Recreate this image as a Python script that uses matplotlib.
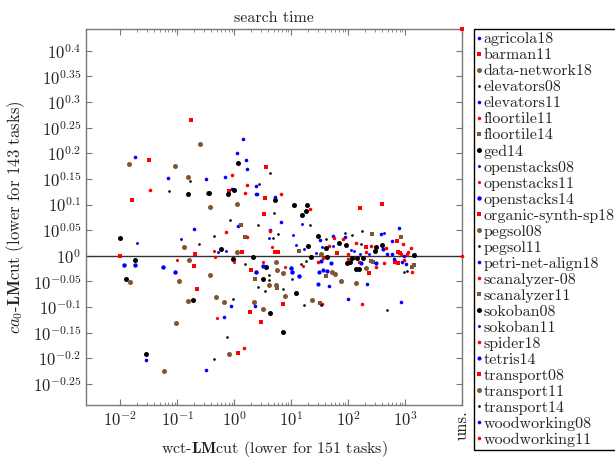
import matplotlib
matplotlib.use("Agg")
import matplotlib.pyplot as plt
from matplotlib.ticker import FixedLocator, FixedFormatter, NullLocator

plt.rcParams['font.family'] = 'serif'
plt.rcParams['font.serif'] = ['cmr10', 'DejaVu Serif']
plt.rcParams['mathtext.fontset'] = 'cm'
plt.rcParams['axes.formatter.use_mathtext'] = True
plt.rcParams['axes.unicode_minus'] = False

# ---------------- data ----------------
UNS = 1e4          # x value used for unsolved tasks
YMAX = 2.77

domains = ["agricola18", "barman11", "data-network18", "elevators08", "elevators11",
           "floortile11", "floortile14", "ged14", "openstacks08", "openstacks11",
           "openstacks14", "organic-synth-sp18", "pegsol08", "pegsol11",
           "petri-net-align18", "scanalyzer-08", "scanalyzer11", "sokoban08",
           "sokoban11", "spider18", "tetris14", "transport08", "transport11",
           "transport14", "woodworking08", "woodworking11"]

agricola18_x = [1.44, 1.13, 1.62, 1.69, 0.0183, 0.0695, 0.323, 0.695, 2.43]
agricola18_y = [1.692, 1.589, 1.540, 1.479, 1.561, 1.420, 1.414, 1.427, 1.370]
barman11_x = [0.176, 3.64, 0.0323, 0.817, 0.0162, 3.50, 3.36, 162, 395, 5.24]
barman11_y = [1.843, 1.492, 1.540, 1.339, 1.286, 1.298, 1.208, 1.241, 1.263, 1.018]
data_network18_x = [0.253, 0.0144, 0.0922, 0.156, 0.350, 1.13, 0.379, 0.133, 1.13, 0.162, 5.46]
data_network18_y = [1.654, 1.512, 1.499, 1.427, 1.328, 1.263, 1.247, 1.041, 1.018, 0.9822, 0.9734]
elevators08_x = [4.28, 0.169, 2.75, 0.0724, 5.03, 0.851, 2.64, 21.5, 0.243, 0.446, 4.83]
elevators08_y = [1.453, 1.401, 1.382, 1.339, 1.213, 1.176, 1.150, 1.150, 1.055, 1.094, 1.084]
elevators11_x = [0.922, 2.43, 2.53, 5.24, 1.17, 6.68, 0.199, 4.28, 785]
elevators11_y = [1.352, 1.322, 1.322, 1.304, 1.144, 1.165, 1.129, 1.124, 1.134]
floortile11_x = [0.922, 1.69, 0.0336, 1.56, 6.68, 21.5, 0.724, 1.69, 4.28]
floortile11_y = [1.439, 1.376, 1.346, 1.328, 1.322, 1.235, 1.114, 1.089, 1.119]
floortile14_x = [1.33, 1.56, 13.8, 2.34, 5.68, 41.1, 32.3]
floortile14_y = [1.150, 1.089, 1.023, 0.9017, 0.8660, 0.9140, 0.8095]
ged14_x = [1.17, 0.156, 0.364, 0.785, 1.0, 5.24, 11.3, 19.1, 15.6, 18.3,
           0.010, 19.9, 0.591, 0.0183, 0.961, 2.15, 3.64, 0.0127, 3.23, 0.191]
ged14_y = [1.519, 1.322, 1.328, 1.322, 1.346, 1.286, 1.258, 1.258, 1.202, 1.224,
           1.084, 1.046, 1.032, 0.9822, 0.9866, 0.9955, 0.9518, 0.9017, 0.9017, 0.8204]
openstacks08_x = [15.6, 0.0199, 0.117, 4.11, 10.8, 12.2, 0.524, 0.724, 0.010]
openstacks08_y = [1.155, 1.060, 1.080, 1.084, 1.099, 1.051, 1.018, 1.023, 1.000]
openstacks11_x = [4.64, 0.446, 0.100, 0.464, 1.0, 3.23, 7.85, 16.2, 0.503]
openstacks11_y = [1.041, 1.023, 0.9822, 0.9955, 0.9734, 0.9734, 0.9518, 0.9560, 0.7566]
openstacks14_x = [0.0117, 0.0183, 3.23, 2.43, 10.0, 10.4, 13.8, 0.0568, 0.0922]
openstacks14_y = [0.9603, 0.9603, 0.9560, 0.9306, 0.9475, 0.9306, 0.9140, 0.9518, 0.9306]
organic_synth_sp18_x = [5.91, 1.38, 0.010, 0.207, 0.199, 1.99, 0.224, 1.91, 7.24, 2.98]
organic_synth_sp18_y = [1.018, 1.018, 1.000, 1.009, 0.9560, 0.9390, 0.8621, 0.7775, 0.8059, 0.7431]
pegsol08_x = [5.68, 7.24, 0.0150, 0.108, 0.379, 4.11, 5.46, 0.156, 0.483, 0.668, 2.24]
pegsol08_y = [0.9390, 0.9264, 0.8897, 0.8937, 0.9181, 0.8778, 0.8778, 0.8167, 0.8313, 0.8131, 0.8131]
pegsol11_x = [5.91, 1.56, 15.0, 18.3, 4.11, 4.11, 10.4, 3.50, 2.64, 7.24, 0.961]
pegsol11_y = [1.104, 0.9647, 0.9647, 0.9778, 0.9181, 0.8977, 0.9017, 0.8545, 0.8699, 0.8621, 0.8240]
petri_net_align18_x = [0.886, 2.34, 0.668, 0.0286, 0.323, 32.3, 54.6, 88.6, 379]
petri_net_align18_y = [0.7987, 0.7987, 0.7600, 0.6263, 0.5987, 1.075, 1.094, 1.089, 1.104]
scanalyzer_08_x = [1.50, 56.8, 81.7, 138, 46.4, 253, 100, 207, 36.4]
scanalyzer_08_y = [0.6612, 1.084, 1.080, 1.060, 1.046, 1.046, 1.009, 1.018, 0.9910]
scanalyzer11_x = [264, 253, 275, 851, 1327, 1438]
scanalyzer11_y = [1.104, 0.9778, 0.9734, 1.089, 0.9518, 0.9603]
sokoban08_x = [4.28, 12.2, 7.24, 0.0286, 29.8, 69.5, 92.2, 41.1, 310, 298, 22.4,
               42.8, 96.0, 108, 117, 144, 183, 138, 156, 395, 1438]
sokoban08_y = [0.7740, 0.8466, 0.7105, 0.6435, 1.094, 1.060, 1.051, 1.037, 1.041, 1.023, 0.9955,
               0.9955, 0.9690, 0.9734, 0.9910, 0.9910, 0.9910, 0.9432, 0.9432, 1.051, 1.005]
sokoban11_x = [428, 16.9, 35.0, 54.6, 113, 127, 27.5, 162, 234]
sokoban11_y = [1.109, 1.032, 1.041, 1.046, 1.027, 1.023, 1.014, 1.009, 1.009]
spider18_x = [29.8, 100, 156, 310, 35.0, 176, 922, 1274]
spider18_y = [0.9734, 0.9866, 0.9734, 0.9518, 0.8059, 0.8059, 1.055, 1.037]
tetris14_x = [411, 33.6, 50.3, 169, 310, 31.0, 42.8, 36.4, 29.8]
tetris14_y = [1.032, 0.9778, 0.9690, 0.9690, 0.9690, 0.9306, 0.9348, 0.9390, 0.8817]
transport08_x = [1.17, 207, 64.1, 234, 724, 754, 817, 668, 754, UNS]
transport08_y = [0.6464, 1.041, 1.014, 0.9264, 1.070, 1.018, 1.014, 0.9734, 0.9690, YMAX]
transport11_x = [3.23, 7.85, 0.0960, 0.817, 0.0592, 33.6, 207, 52.4, 59.1, 75.4, 138, 23.4]
transport11_y = [0.7880, 0.8351, 0.7397, 0.6435, 0.5961, 1.009, 0.9475, 0.9306, 0.9223, 0.8937, 0.8857, 0.8204]
transport14_x = [16.9, 0.754, 0.446, 176, 41.1, 88.6, 117, 169, 1084, 960, 483, 33.6]
transport14_y = [0.8023, 0.6946, 0.6292, 1.119, 1.080, 1.109, 1.099, 1.055, 0.9348, 0.9306, 0.7845, 0.8023]
woodworking08_x = [46.4, 215, 100, 591, 483, 591, 960, 641, 886, 1042, 851]
woodworking08_y = [0.8738, 0.8817, 0.8240, 1.070, 1.009, 1.009, 1.000, 0.9866, 0.9734, 0.9647, 0.8131]
woodworking11_x = [464, 1129, 1084, 851, 960, 428, 1327, UNS]
woodworking11_y = [1.037, 1.018, 1.009, 1.009, 0.9822, 0.9690, 0.9306, 1.000]

xs = [agricola18_x, barman11_x, data_network18_x, elevators08_x, elevators11_x,
      floortile11_x, floortile14_x, ged14_x, openstacks08_x, openstacks11_x,
      openstacks14_x, organic_synth_sp18_x, pegsol08_x, pegsol11_x,
      petri_net_align18_x, scanalyzer_08_x, scanalyzer11_x, sokoban08_x,
      sokoban11_x, spider18_x, tetris14_x, transport08_x, transport11_x,
      transport14_x, woodworking08_x, woodworking11_x]
ys = [agricola18_y, barman11_y, data_network18_y, elevators08_y, elevators11_y,
      floortile11_y, floortile14_y, ged14_y, openstacks08_y, openstacks11_y,
      openstacks14_y, organic_synth_sp18_y, pegsol08_y, pegsol11_y,
      petri_net_align18_y, scanalyzer_08_y, scanalyzer11_y, sokoban08_y,
      sokoban11_y, spider18_y, tetris14_y, transport08_y, transport11_y,
      transport14_y, woodworking08_y, woodworking11_y]

xtick_vals = [1e-2, 1e-1, 1e0, 1e1, 1e2, 1e3, UNS]
xtick_labels = [r'$10^{-2}$', r'$10^{-1}$', r'$10^{0}$', r'$10^{1}$', r'$10^{2}$', r'$10^{3}$', 'uns.']
ytick_exps = [-0.25, -0.2, -0.15, -0.1, -0.05, 0, 0.05, 0.1, 0.15, 0.2, 0.25, 0.3, 0.35, 0.4]
ytick_labels = [r'$10^{-0.25}$', r'$10^{-0.2}$', r'$10^{-0.15}$', r'$10^{-0.1}$', r'$10^{-0.05}$',
                r'$10^{0}$', r'$10^{0.05}$', r'$10^{0.1}$', r'$10^{0.15}$', r'$10^{0.2}$',
                r'$10^{0.25}$', r'$10^{0.3}$', r'$10^{0.35}$', r'$10^{0.4}$']

# ---------------- styles ----------------
BLUE, RED, BROWN, BLACK = '#0000ff', '#ff0000', '#80552f', '#000000'
styles = {
    "agricola18": (BLUE, 'o', 2.6), "barman11": (RED, 's', 3.2),
    "data-network18": (BROWN, 'o', 3.6), "elevators08": (BLACK, 'o', 1.9),
    "elevators11": (BLUE, 'o', 2.6), "floortile11": (RED, 'o', 2.6),
    "floortile14": (BROWN, 's', 3.2), "ged14": (BLACK, 'o', 3.6),
    "openstacks08": (BLUE, 'o', 2.1), "openstacks11": (RED, 'o', 2.3),
    "openstacks14": (BLUE, 'o', 3.2), "organic-synth-sp18": (RED, 's', 3.2),
    "pegsol08": (BROWN, 'o', 3.6), "pegsol11": (BLACK, 'o', 1.9),
    "petri-net-align18": (BLUE, 'o', 2.6), "scanalyzer-08": (RED, 'o', 2.6),
    "scanalyzer11": (BROWN, 's', 3.2), "sokoban08": (BLACK, 'o', 3.6),
    "sokoban11": (BLUE, 'o', 2.1), "spider18": (RED, 'o', 2.6),
    "tetris14": (BLUE, 'o', 3.0), "transport08": (RED, 's', 3.2),
    "transport11": (BROWN, 'o', 3.6), "transport14": (BLACK, 'o', 1.9),
    "woodworking08": (BLUE, 'o', 2.6), "woodworking11": (RED, 'o', 2.6),
}

fig = plt.figure(figsize=(6.15, 4.59), dpi=100)
ax = fig.add_axes([86 / 615, 1 - 405 / 459, 376 / 615, 376 / 459])
ax.set_xscale('log')
ax.set_yscale('log')

for name, x, y in zip(domains, xs, ys):
    c, m, s = styles[name]
    ax.plot(x, y, linestyle='none', marker=m, ms=s, mew=0, color=c,
            label=name, clip_on=False, zorder=3)

ax.axhline(1.0, color='#333333', lw=1.0, zorder=2)

ax.set_xlim(10 ** -2.6, UNS)
ax.set_ylim(10 ** -0.291, YMAX)

ax.xaxis.set_major_locator(FixedLocator(xtick_vals))
ax.xaxis.set_major_formatter(FixedFormatter(xtick_labels))
minor = [m * 10.0 ** k for k in range(-2, 3) for m in range(2, 10)]
ax.xaxis.set_minor_locator(FixedLocator(minor))
ax.yaxis.set_major_locator(FixedLocator([10 ** e for e in ytick_exps]))
ax.yaxis.set_major_formatter(FixedFormatter(ytick_labels))
ax.yaxis.set_minor_locator(NullLocator())

ax.tick_params(which='both', direction='in', top=True, right=True,
               colors='#777777', labelcolor='#222222', labelsize=12)
ax.tick_params(which='major', length=4, width=0.8)
ax.tick_params(which='minor', length=2, width=0.6)
for lab in ax.get_xticklabels():
    if lab.get_text() == 'uns.':
        lab.set_rotation(90)
        lab.set_verticalalignment('top')
for sp in ax.spines.values():
    sp.set_color('#777777')
    sp.set_linewidth(1.0)

ax.set_title('search time', fontsize=11.5, pad=5, color='#222222')
ax.set_xlabel(r'wct-$\mathbf{LM}$cut (lower for 151 tasks)', fontsize=11.5,
              color='#222222')
ax.xaxis.set_label_coords(0.5, -(449 - 405) / 376)
ax.xaxis.label.set_verticalalignment('center')
ax.set_ylabel(r'$ca_0$-$\mathbf{LM}$cut (lower for 143 tasks)', fontsize=12,
              labelpad=4, color='#222222')

leg = ax.legend(loc='upper left', bbox_to_anchor=(1 + 12 / 376, 1.0),
                borderaxespad=0, fontsize=11.5, labelspacing=0.115,
                handlelength=0.25, handletextpad=0.15, borderpad=0.2,
                fancybox=False, framealpha=1, edgecolor='#000000',
                markerscale=1.0, numpoints=1)
leg.get_frame().set_linewidth(1.0)
for t in leg.get_texts():
    t.set_color('#222222')

fig.savefig('out.png', dpi=100)
